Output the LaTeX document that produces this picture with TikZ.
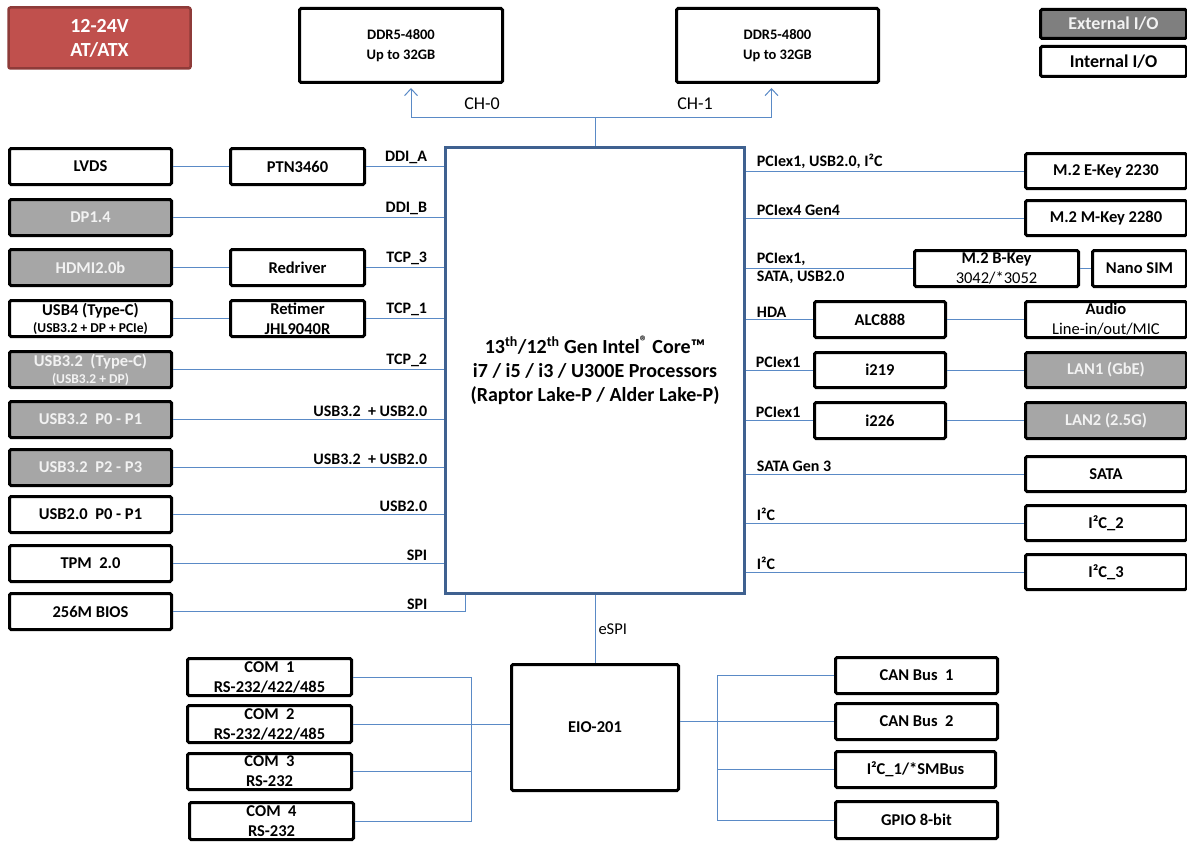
\documentclass[tikz,border=0pt]{standalone}
\usepackage{fontspec}
\setmainfont{Carlito}
\usetikzlibrary{arrows.meta,calc}
\definecolor{lnc}{HTML}{5A8AC6}
\definecolor{cpub}{HTML}{3F6190}
\definecolor{extg}{HTML}{A6A6A6}
\definecolor{extd}{HTML}{7F7F7F}
\definecolor{pwr}{HTML}{C0504D}
\definecolor{pwrd}{HTML}{8E3B39}
\definecolor{ltxt}{HTML}{F2F2F2}
\newcommand{\fsz}[2]{\fontsize{#1pt}{#2pt}\selectfont}
\newcommand{\bx}[7]{\node[#2, minimum width={#5-#3-3}, minimum height={#6-#4-3}] (#1) at ({(#3+#5)/2},{(#4+#6)/2}) {#7};}
\begin{document}
\begin{tikzpicture}[x=1pt,y=-1pt,
  box/.style={draw=black, line width=3pt, rounded corners=1.5pt, fill=white, align=center, inner sep=0pt, font=\fsz{16.5}{20}\bfseries},
  extbox/.style={box, fill=extg, text=ltxt},
  ddrbox/.style={box, font=\fsz{14.5}{20}\bfseries},
  cpubox/.style={draw=cpub, line width=3.8pt, fill=white, align=center, inner sep=0pt, font=\fsz{20}{24}\bfseries},
  pwrbox/.style={draw=pwrd, line width=2.5pt, rounded corners=2pt, fill=pwr, text=white, align=center, inner sep=0pt, font=\fsz{20}{24}\bfseries},
  cl/.style={draw=lnc, line width=1pt},
  arr/.style={cl, -{Straight Barb[length=7pt,width=13pt]}, shorten >=4pt},
  lblL/.style={anchor=south east, xshift=-14pt, inner sep=2pt, font=\fsz{16}{19}\bfseries},
  lblR/.style={anchor=south west, xshift=8pt, inner sep=2pt, font=\fsz{16}{19}\bfseries},
  chl/.style={font=\fsz{18}{20}, inner sep=0pt}
]
\useasboundingbox (0,0) rectangle (1187,843);

% legend and power
\bx{pwr}{pwrbox}{7}{6}{192}{70}{12-24V\\AT/ATX}
\bx{extio}{box,fill=extd,text=ltxt,font=\fsz{18}{20}\bfseries}{1039}{8}{1188}{40}{External I/O}
\bx{intio}{box,font=\fsz{18}{20}\bfseries}{1039}{45}{1188}{78}{Internal I/O}

% memory
\bx{ddr0}{ddrbox}{298}{7}{504}{84}{DDR5-4800\\Up to 32GB}
\bx{ddr1}{ddrbox}{675}{7}{880}{84}{DDR5-4800\\Up to 32GB}

% CPU
\bx{cpu}{cpubox}{444}{146}{746}{595}{13\textsuperscript{th}/12\textsuperscript{th} Gen Intel\textsuperscript{\fsz{15}{15}®} Core™\\i7 / i5 / i3 / U300E Processors\\(Raptor Lake-P / Alder Lake-P)}

% left column
\bx{lvds}{box}{8}{147}{173}{186}{LVDS}
\bx{dp}{extbox}{8}{198}{173}{237}{DP1.4}
\bx{hdmi}{extbox}{8}{248}{173}{287}{HDMI2.0b}
\bx{usb4}{box}{8}{299}{173}{338}{USB4 (Type-C)\\[-3pt]{\fsz{13.5}{15}(USB3.2 + DP + PCIe)}}
\bx{typec}{extbox}{8}{350}{173}{389}{USB3.2 \ (Type-C)\\[-3pt]{\fsz{13.5}{15}(USB3.2 + DP)}}
\bx{u01}{extbox}{8}{400}{173}{439}{USB3.2 \ P0 - P1}
\bx{u23}{extbox}{8}{448}{173}{487}{USB3.2 \ P2 - P3}
\bx{u2}{box}{8}{495}{173}{534}{USB2.0 \ P0 - P1}
\bx{tpm}{box}{8}{544}{173}{583}{TPM \ 2.0}
\bx{bios}{box}{8}{592}{173}{631}{256M BIOS}

% left middle
\bx{ptn}{box}{229}{147}{366}{186}{PTN3460}
\bx{redr}{box}{229}{248}{366}{287}{Redriver}
\bx{retim}{box}{229}{299}{366}{338}{Retimer\\JHL9040R}

% right column
\bx{ekey}{box}{1024}{152}{1188}{190}{M.2 E-Key 2230}
\bx{mkey}{box}{1024}{199}{1188}{237}{M.2 M-Key 2280}
\bx{bkey}{box}{913}{249}{1080}{288}{M.2 B-Key\\{\mdseries 3042/*3052}}
\bx{sim}{box}{1091}{249}{1188}{288}{Nano SIM}
\bx{alc}{box}{813}{300}{947}{339}{ALC888}
\bx{audio}{box}{1024}{300}{1188}{339}{Audio\\{\mdseries Line-in/out/MIC}}
\bx{i219}{box}{813}{351}{947}{389}{i219}
\bx{lan1}{extbox}{1024}{351}{1188}{389}{LAN1 (GbE)}
\bx{i226}{box}{813}{401}{947}{440}{i226}
\bx{lan2}{extbox}{1024}{401}{1188}{440}{LAN2 (2.5G)}
\bx{sata}{box}{1024}{455}{1188}{493}{SATA}
\bx{iic2}{box}{1024}{504}{1188}{542}{I²C\_2}
\bx{iic3}{box}{1024}{553}{1188}{591}{I²C\_3}

% bottom
\bx{eio}{box}{510}{663}{680}{792}{EIO-201}
\bx{com1}{box}{186}{657}{353}{697}{COM \ 1\\RS-232/422/485}
\bx{com2}{box}{186}{704}{353}{744}{COM \ 2\\RS-232/422/485}
\bx{com3}{box}{186}{752}{353}{791}{COM \ 3\\RS-232}
\bx{com4}{box}{188}{801}{355}{841}{COM \ 4\\RS-232}
\bx{can1}{box}{834}{656}{999}{695}{CAN Bus \ 1}
\bx{can2}{box}{834}{702}{999}{741}{CAN Bus \ 2}
\bx{iic1}{box}{834}{750}{997}{789}{I²C\_1/*SMBus}
\bx{gpio}{box}{834}{800}{999}{840}{GPIO 8-bit}

% memory connectors
\coordinate (bus) at (595,117);
\draw[cl] (cpu.north) -- (bus);
\draw[arr] (bus) -| ([xshift=10pt]ddr0.south);
\draw[arr] (bus) -| ([xshift=-6pt]ddr1.south);
\node[chl] (ch0) at (482,104) {CH-0};
\node[chl] (ch1) at (695,104) {CH-1};

% left connectors
\draw[cl] (lvds.east) -- (ptn.west);
\draw[cl] (ptn.east) -- (ptn.east -| cpu.west) node[lblL] {DDI\_A};
\draw[cl] (dp.east) -- (dp.east -| cpu.west) node[lblL] {DDI\_B};
\draw[cl] (hdmi.east) -- (redr.west);
\draw[cl] (redr.east) -- (redr.east -| cpu.west) node[lblL] {TCP\_3};
\draw[cl] (usb4.east) -- (retim.west);
\draw[cl] (retim.east) -- (retim.east -| cpu.west) node[lblL] {TCP\_1};
\draw[cl] (typec.east) -- (typec.east -| cpu.west) node[lblL] {TCP\_2};
\draw[cl] (u01.east) -- (u01.east -| cpu.west) node[lblL] {USB3.2 \ + USB2.0};
\draw[cl] (u23.east) -- (u23.east -| cpu.west) node[lblL] {USB3.2 \ + USB2.0};
\draw[cl] (u2.east) -- (u2.east -| cpu.west) node[lblL] {USB2.0};
\draw[cl] (tpm.east) -- (tpm.east -| cpu.west) node[lblL] {SPI};
\draw[cl] (bios.east) -| ([xshift=22pt]cpu.south west);
\path (bios.east -| cpu.west) node[lblL] (spib) {SPI};

% right connectors
\draw[cl] (ekey.west -| cpu.east) node[lblR] {PCIex1, USB2.0, I²C} -- (ekey.west);
\draw[cl] (mkey.west -| cpu.east) node[lblR] {PCIex4 Gen4} -- (mkey.west);
\draw[cl] (bkey.west -| cpu.east) node[lblR] {PCIex1,} node[lblR, anchor=north west] {SATA, USB2.0} -- (bkey.west);
\draw[cl] (bkey.east) -- (sim.west);
\draw[cl] (alc.west -| cpu.east) node[lblR] {HDA} -- (alc.west);
\draw[cl] (alc.east) -- (audio.west);
\draw[cl] (i219.west -| cpu.east) node[lblR, xshift=-1pt] {PCIex1} -- (i219.west);
\draw[cl] (i219.east) -- (lan1.west);
\draw[cl] (i226.west -| cpu.east) node[lblR, xshift=-1pt] {PCIex1} -- (i226.west);
\draw[cl] (i226.east) -- (lan2.west);
\draw[cl] (sata.west -| cpu.east) node[lblR] {SATA Gen 3} -- (sata.west);
\draw[cl] (iic2.west -| cpu.east) node[lblR] {I²C} -- (iic2.west);
\draw[cl] (iic3.west -| cpu.east) node[lblR] {I²C} -- (iic3.west);

% bottom connectors
\draw[cl] (cpu.south) -- (eio.north) node[midway, anchor=west, inner sep=3pt, font=\fsz{16.5}{19}] {eSPI};
\coordinate (vl) at (471,0);
\coordinate (vr) at (717,0);
\draw[cl] (com1.east) -- (com1.east -| vl) -- (com4.east -| vl) -- (com4.east);
\draw[cl] (com2.east) -- (com2.east -| eio.west);
\draw[cl] (com3.east) -- (com3.east -| vl);
\draw[cl] (can1.west) -- (can1.west -| vr) -- (gpio.west -| vr) -- (gpio.west);
\draw[cl] (can2.west -| eio.east) -- (can2.west);
\draw[cl] (iic1.west -| vr) -- (iic1.west);
\end{tikzpicture}
\end{document}
